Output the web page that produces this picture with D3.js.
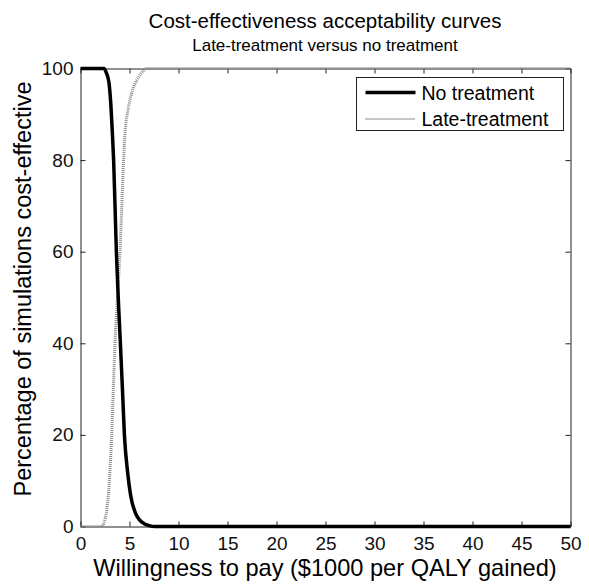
<!DOCTYPE html>
<html>
<head>
<meta charset="utf-8">
<script src="https://cdn.jsdelivr.net/npm/d3@7"></script>
<style>
  body { margin: 0; background: #fff; }
  svg { display: block; font-family: "Liberation Sans", Arial, sans-serif; }
</style>
</head>
<body>
<svg id="chart" width="589" height="584"></svg>
<script>
// willingness to pay ($1000 per QALY) and % of simulations cost-effective
var noTreatX = [0, 2.0, 2.4, 2.65, 2.9, 3.1, 3.25, 3.38, 3.66, 3.85, 4.07, 4.28, 4.48, 4.8, 5.1, 5.6, 6.0, 6.5, 7.0, 7.6, 50];
var noTreatY = [100, 100, 100, 99, 97, 92, 86, 80, 60, 50, 40, 30, 20, 12, 7, 3, 1.5, 0.6, 0.2, 0, 0];

var lateTreatX = [0, 2.15, 2.4, 2.7, 2.95, 3.18, 3.52, 3.8, 4.03, 4.4, 4.55, 4.85, 5.2, 5.9, 6.4, 6.75, 50];
var lateTreatY = [0, 0, 0.8, 4, 10, 20, 40, 51, 60, 80, 86, 91, 94.5, 98, 99.5, 100, 100];

var xTicks = [0, 5, 10, 15, 20, 25, 30, 35, 40, 45, 50];
var yTicks = [0, 20, 40, 60, 80, 100];

var title = "Cost-effectiveness acceptability curves";
var subtitle = "Late-treatment versus no treatment";
var xLabel = "Willingness to pay ($1000 per QALY gained)";
var yLabel = "Percentage of simulations cost-effective";
var seriesNames = ["No treatment", "Late-treatment"];


function plot() {
    var svg = d3.select("#chart");
    var left = 80.5, right = 570.5, top = 68.5, bottom = 526.5;

    var x = d3.scaleLinear().domain([0, 50]).range([left, right]);
    var y = d3.scaleLinear().domain([0, 100]).range([bottom, top]);

    // box + inward ticks on all four sides
    var tickLen = 5;
    svg.append("g").attr("transform", "translate(0," + bottom + ")")
        .call(d3.axisBottom(x).tickValues(xTicks).tickSizeInner(-tickLen).tickSizeOuter(0).tickPadding(10))
        .call(styleAxis);
    svg.append("g").attr("transform", "translate(0," + top + ")")
        .call(d3.axisTop(x).tickValues(xTicks).tickSizeInner(-tickLen).tickSizeOuter(0).tickFormat(""))
        .call(styleAxis);
    svg.append("g").attr("transform", "translate(" + left + ",0)")
        .call(d3.axisLeft(y).tickValues(yTicks).tickSizeInner(-tickLen).tickSizeOuter(0).tickPadding(7))
        .call(styleAxis);
    svg.append("g").attr("transform", "translate(" + right + ",0)")
        .call(d3.axisRight(y).tickValues(yTicks).tickSizeInner(-tickLen).tickSizeOuter(0).tickFormat(""))
        .call(styleAxis);

    var line = d3.line()
        .x(function (d) { return x(d[0]); })
        .y(function (d) { return y(d[1]); })
        .curve(d3.curveMonotoneX);

    svg.append("path")
        .datum(d3.zip(lateTreatX, lateTreatY))
        .attr("d", line)
        .attr("fill", "none")
        .attr("stroke", "#8c8c8c")
        .attr("stroke-width", 3)
        .attr("stroke-dasharray", "1,1");

    svg.append("path")
        .datum(d3.zip(noTreatX, noTreatY))
        .attr("d", line)
        .attr("fill", "none")
        .attr("stroke", "#000")
        .attr("stroke-width", 3.5);

    // titles
    svg.append("text").attr("x", 325).attr("y", 28).attr("text-anchor", "middle")
        .style("font-size", "20.5px").text(title);
    svg.append("text").attr("x", 325).attr("y", 51).attr("text-anchor", "middle")
        .style("font-size", "17px").text(subtitle);
    svg.append("text").attr("x", 325).attr("y", 576).attr("text-anchor", "middle")
        .style("font-size", "23.6px").text(xLabel);
    svg.append("text").attr("transform", "translate(31,289) rotate(-90)")
        .attr("text-anchor", "middle").style("font-size", "23.5px").text(yLabel);

    // legend
    var lg = svg.append("g").attr("transform", "translate(356.5,77.5)");
    lg.append("rect").attr("width", 207).attr("height", 53)
        .attr("fill", "#fff").attr("stroke", "#222").attr("stroke-width", 1);
    var styles = [
        { stroke: "#000", width: 3.5, dash: null },
        { stroke: "#8c8c8c", width: 2, dash: "1,1" }
    ];
    seriesNames.forEach(function (name, i) {
        var cy = 15 + i * 26.5;
        lg.append("line").attr("x1", 9).attr("x2", 59).attr("y1", cy).attr("y2", cy)
            .attr("stroke", styles[i].stroke).attr("stroke-width", styles[i].width)
            .attr("stroke-dasharray", styles[i].dash);
        lg.append("text").attr("x", 65).attr("y", cy + 7).style("font-size", "19.5px").text(name);
    });
}

function styleAxis(g) {
    g.select(".domain").attr("stroke", "#222");
    g.selectAll(".tick line").attr("stroke", "#222");
    g.selectAll(".tick text").attr("fill", "#111")
        .style("font-size", "19px").style("font-family", "Liberation Sans, Arial, sans-serif");
}

plot();
</script>
</body>
</html>
